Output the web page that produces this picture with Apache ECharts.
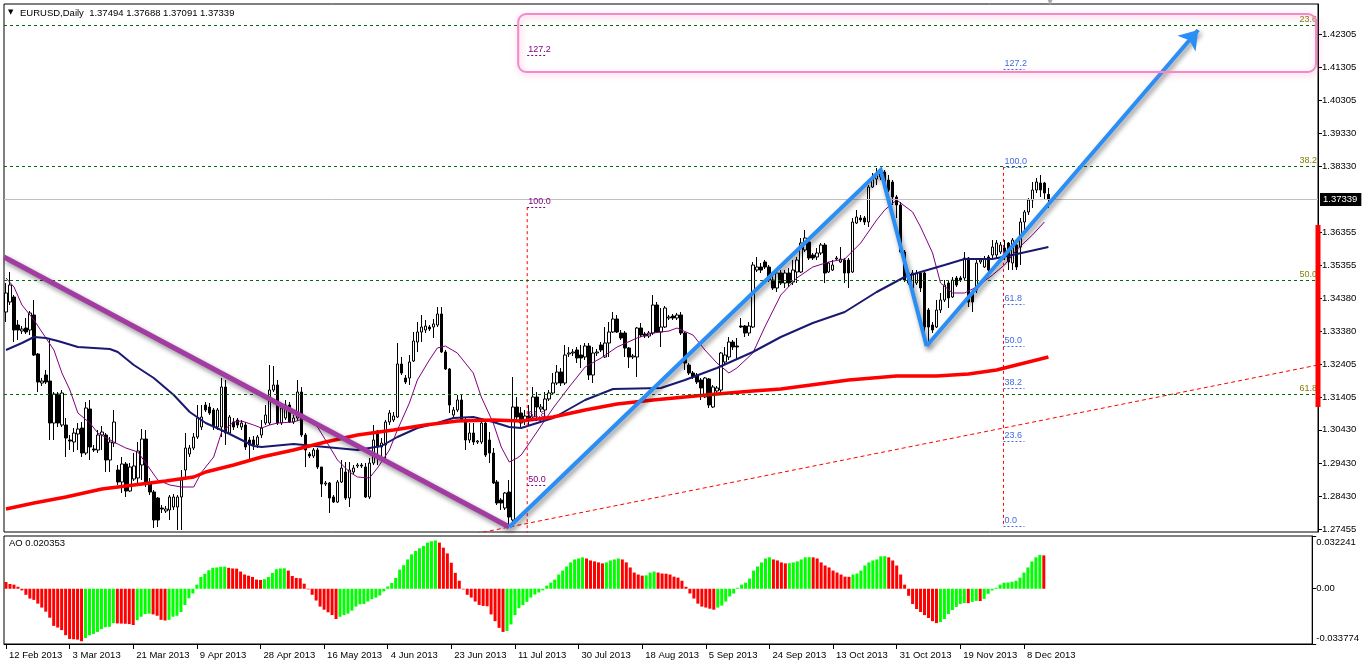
<!DOCTYPE html>
<html><head><meta charset="utf-8">
<script src="https://cdn.jsdelivr.net/npm/echarts@6/dist/echarts.min.js"></script>
<style>html,body{margin:0;padding:0;background:#fff}#c{width:1362px;height:665px}</style>
</head><body><div id="c"></div>
<script>
// ---------------- DATA ----------------
const opens = [1.33965,1.34265,1.34415,1.33575,1.33395,1.33485,1.33425,1.33875,1.32705,1.31835,
1.32075,1.31895,1.30635,1.31505,1.30575,1.30575,1.30125,1.30065,1.30305,1.30485,
1.29735,1.31055,1.29855,1.29825,1.30275,1.30275,1.29525,1.30035,1.29225,1.28865,
1.29405,1.28595,1.28955,1.28985,1.29375,1.30155,1.28835,1.28565,1.28385,1.28085,
1.27995,1.28025,1.28115,1.28115,1.28415,1.29225,1.29705,1.29885,1.30215,1.30515,
1.31175,1.31115,1.31025,1.30515,1.30515,1.31715,1.30335,1.30665,1.30725,1.30515,
1.30575,1.30125,1.30125,1.29975,1.30275,1.30635,1.30635,1.31625,1.31775,1.30635,
1.30785,1.31175,1.30665,1.30785,1.31565,1.30275,1.29705,1.29645,1.29825,1.29315,
1.28805,1.28835,1.28415,1.28265,1.28865,1.29165,1.28385,1.29165,1.29345,1.29375,
1.29315,1.28415,1.29435,1.30395,1.29915,1.29975,1.30665,1.30725,1.30815,1.32405,
1.31985,1.31985,1.32495,1.33065,1.33365,1.33425,1.33515,1.33515,1.33575,1.33905,
1.32765,1.32255,1.30875,1.31025,1.31325,1.30725,1.30125,1.30335,1.30065,1.30065,
1.30635,1.30125,1.29735,1.28865,1.28325,1.28085,1.28565,1.27725,1.31115,1.30935,
1.30725,1.30845,1.30815,1.31415,1.31055,1.31025,1.31355,1.31535,1.31835,1.32165,
1.31835,1.32705,1.32735,1.32825,1.32675,1.32615,1.32945,1.32075,1.32735,1.32975,
1.32615,1.33035,1.33365,1.33755,1.33335,1.33335,1.32885,1.32615,1.32615,1.33485,
1.33305,1.33245,1.33335,1.34175,1.33365,1.33515,1.33785,1.33845,1.33785,1.33875,
1.33335,1.32375,1.32135,1.32075,1.31925,1.31415,1.31955,1.31115,1.31595,1.31625,
1.32465,1.32615,1.33065,1.32945,1.33545,1.33545,1.33335,1.33515,1.35225,1.35315,
1.35465,1.35315,1.34925,1.34685,1.35135,1.34835,1.35135,1.34865,1.35165,1.35165,
1.35825,1.36065,1.35675,1.35615,1.35735,1.35975,1.35165,1.35225,1.35555,1.35465,
1.35525,1.35525,1.35165,1.36635,1.36785,1.36785,1.36665,1.37715,1.37955,1.38015,
1.38165,1.37925,1.37865,1.37415,1.37175,1.35765,1.35135,1.34685,1.34835,1.35135,
1.35135,1.34025,1.33575,1.33515,1.34025,1.34325,1.34835,1.34415,1.34985,1.34985,
1.34985,1.35585,1.34565,1.34625,1.35465,1.35315,1.35615,1.35675,1.35675,1.35765,
1.35885,1.36035,1.35435,1.35975,1.35915,1.36665,1.36965,1.37325,1.37625,1.37835,
1.37835,1.37494];
const closes = [1.34535,1.34775,1.33425,1.33425,1.33455,1.33365,1.33935,1.32675,1.31865,1.31895,
1.31865,1.30635,1.31505,1.30635,1.31535,1.30185,1.30095,1.30335,1.30455,1.29735,
1.31085,1.29915,1.29825,1.30275,1.30365,1.29525,1.30065,1.30665,1.28865,1.29405,
1.28595,1.29315,1.29345,1.29795,1.30155,1.28835,1.28565,1.27725,1.27725,1.28055,
1.28055,1.28415,1.28415,1.28415,1.28925,1.29885,1.29885,1.30215,1.30785,1.30815,
1.31025,1.30935,1.30515,1.31025,1.31715,1.30335,1.30815,1.30515,1.30575,1.30635,
1.29915,1.29975,1.29975,1.30215,1.30485,1.30875,1.31625,1.31775,1.30635,1.31085,
1.31175,1.30665,1.30785,1.31565,1.30275,1.29825,1.29645,1.29825,1.29315,1.28805,
1.28835,1.28385,1.28265,1.28865,1.29285,1.28385,1.29225,1.29285,1.29375,1.29345,
1.28415,1.29435,1.30125,1.29915,1.30035,1.30665,1.30935,1.30845,1.32405,1.32135,
1.31865,1.32465,1.33095,1.33365,1.33515,1.33545,1.33455,1.33605,1.33905,1.32765,
1.32255,1.31175,1.31025,1.31325,1.30725,1.30125,1.30335,1.30065,1.30095,1.30635,
1.29675,1.29735,1.28835,1.28235,1.28235,1.28535,1.27815,1.31115,1.30815,1.30635,
1.30845,1.30725,1.31415,1.31115,1.31115,1.31355,1.31535,1.31835,1.32165,1.31835,
1.32675,1.32735,1.32765,1.32585,1.32585,1.32945,1.32075,1.32735,1.32765,1.32825,
1.33035,1.33365,1.33755,1.33365,1.33185,1.32885,1.32615,1.32645,1.33485,1.33275,
1.33245,1.33335,1.34175,1.33365,1.33515,1.34085,1.33815,1.33785,1.33875,1.33335,
1.32435,1.32135,1.32015,1.31865,1.31685,1.31985,1.31175,1.31715,1.31685,1.32735,
1.32675,1.33065,1.32915,1.32915,1.33515,1.33335,1.33545,1.35375,1.35315,1.35225,
1.35315,1.34925,1.34685,1.35135,1.34835,1.35135,1.34835,1.35225,1.35525,1.36035,
1.36185,1.35585,1.35585,1.35735,1.35975,1.35135,1.35435,1.35375,1.35585,1.35555,
1.35135,1.35135,1.36665,1.36815,1.36725,1.36665,1.37715,1.37985,1.38075,1.38165,
1.37715,1.37625,1.37415,1.37175,1.35765,1.34925,1.34835,1.35135,1.35135,1.34685,
1.33515,1.33515,1.33425,1.34025,1.34325,1.34775,1.34385,1.34925,1.34775,1.34925,
1.35585,1.34265,1.34265,1.35435,1.35525,1.35555,1.35225,1.35915,1.36035,1.35975,
1.35735,1.35465,1.36125,1.35315,1.36665,1.36965,1.37325,1.37625,1.37865,1.37625,
1.37535,1.37339];
const lows = [1.33665,1.34175,1.33065,1.33125,1.33305,1.33305,1.33275,1.32645,1.31565,1.31745,
1.31805,1.30125,1.30125,1.30515,1.30515,1.29615,1.29825,1.29765,1.29825,1.29615,
1.29675,1.29525,1.29765,1.29735,1.29825,1.29165,1.29165,1.29915,1.28775,1.28535,
1.28415,1.28565,1.28895,1.28835,1.28925,1.28715,1.28475,1.27485,1.27515,1.27935,
1.27935,1.27725,1.28025,1.27425,1.27425,1.28925,1.29615,1.29825,1.30155,1.30425,
1.30965,1.30875,1.30425,1.30425,1.30215,1.29975,1.30275,1.30425,1.30485,1.30425,
1.29825,1.29525,1.29825,1.29885,1.30185,1.30575,1.30575,1.31565,1.30575,1.30575,
1.30725,1.30635,1.30605,1.30695,1.30215,1.29315,1.29585,1.29585,1.29255,1.28415,
1.28745,1.27935,1.28235,1.28235,1.28835,1.28325,1.28115,1.29105,1.29285,1.29285,
1.28385,1.28355,1.29375,1.29375,1.29525,1.29525,1.30575,1.30665,1.30785,1.32075,
1.31805,1.31775,1.32465,1.32765,1.33065,1.33335,1.33395,1.33185,1.33515,1.32735,
1.32225,1.30935,1.30815,1.30965,1.30665,1.29825,1.30035,1.29975,1.30005,1.30005,
1.29615,1.29435,1.28805,1.28175,1.28025,1.28025,1.27515,1.27635,1.30725,1.30515,
1.30575,1.30575,1.30725,1.30785,1.30965,1.30815,1.31295,1.31475,1.31775,1.31745,
1.31775,1.32615,1.32645,1.32435,1.32285,1.32525,1.31925,1.31835,1.32645,1.32765,
1.32585,1.32615,1.33335,1.33335,1.33125,1.32615,1.32285,1.32555,1.32015,1.33215,
1.33185,1.33185,1.33275,1.33335,1.32915,1.33485,1.33725,1.33725,1.33725,1.33275,
1.32225,1.32075,1.31955,1.31805,1.31325,1.31385,1.31085,1.31085,1.31535,1.31565,
1.32375,1.32525,1.32825,1.32525,1.33485,1.33215,1.33245,1.33485,1.35165,1.35135,
1.35255,1.34865,1.34625,1.34565,1.34775,1.34685,1.34715,1.34775,1.34835,1.35135,
1.35765,1.35525,1.35525,1.35525,1.35675,1.34835,1.35135,1.35195,1.35495,1.35435,
1.34835,1.34685,1.35135,1.36605,1.36665,1.36575,1.36515,1.37685,1.37775,1.37925,
1.37685,1.37565,1.37175,1.36785,1.35735,1.34865,1.34775,1.34565,1.34775,1.34565,
1.33215,1.32975,1.33335,1.33485,1.33935,1.34265,1.34085,1.34385,1.34715,1.34865,
1.34925,1.34115,1.33965,1.34535,1.35405,1.35285,1.35135,1.35525,1.35585,1.35705,
1.35525,1.35225,1.35225,1.35225,1.35375,1.36365,1.36875,1.37085,1.37535,1.37415,
1.37325,1.37091];
const highs = [1.34835,1.35165,1.34475,1.33725,1.33545,1.33785,1.33995,1.34325,1.32735,1.31985,
1.32225,1.33185,1.31565,1.31565,1.31625,1.30785,1.30275,1.30485,1.30635,1.30665,
1.31265,1.31325,1.29975,1.30425,1.30545,1.30335,1.30215,1.31025,1.29375,1.29615,
1.29465,1.29435,1.29735,1.30065,1.30455,1.30425,1.28985,1.28625,1.28415,1.28175,
1.28145,1.28475,1.28505,1.28475,1.29225,1.30335,1.29975,1.30335,1.31175,1.31175,
1.31265,1.31235,1.31085,1.31085,1.31985,1.31925,1.30875,1.30785,1.30785,1.30725,
1.30665,1.30215,1.30245,1.30275,1.30725,1.31175,1.32375,1.32345,1.31925,1.31175,
1.31325,1.31265,1.30875,1.31925,1.31715,1.30335,1.29765,1.29885,1.29885,1.29315,
1.28895,1.28865,1.28475,1.28925,1.29525,1.29465,1.29465,1.29375,1.29435,1.29435,
1.29435,1.29585,1.30575,1.30425,1.30185,1.30725,1.31025,1.30965,1.33035,1.32615,
1.32075,1.32675,1.33365,1.33665,1.33875,1.33725,1.33575,1.33755,1.34115,1.34115,
1.32825,1.32285,1.31115,1.31475,1.31475,1.30785,1.30635,1.30635,1.30125,1.30725,
1.30665,1.30365,1.29885,1.28925,1.28385,1.28565,1.28925,1.32015,1.31415,1.31115,
1.31025,1.31175,1.31715,1.31565,1.31205,1.31565,1.31625,1.32135,1.32375,1.32285,
1.32975,1.32915,1.32855,1.32915,1.32975,1.33035,1.33035,1.32915,1.32855,1.33065,
1.33515,1.33665,1.33965,1.33875,1.33425,1.33395,1.32915,1.32705,1.33515,1.33635,
1.33365,1.33395,1.34475,1.34265,1.34085,1.34145,1.33875,1.33905,1.33935,1.33965,
1.33365,1.32435,1.32195,1.32135,1.31985,1.32015,1.31985,1.31775,1.31745,1.32765,
1.32915,1.33215,1.33125,1.33185,1.33785,1.33575,1.33665,1.35465,1.35615,1.35435,
1.35525,1.35375,1.35135,1.35165,1.35225,1.35225,1.35285,1.35525,1.35615,1.36185,
1.36425,1.36125,1.35735,1.35885,1.36035,1.36035,1.35465,1.35525,1.35645,1.35915,
1.35585,1.35585,1.36785,1.37025,1.36875,1.36845,1.37775,1.38135,1.38285,1.38285,
1.38225,1.38075,1.37925,1.37475,1.37265,1.35825,1.35225,1.35225,1.35225,1.35165,
1.35165,1.34085,1.33665,1.34325,1.34535,1.34925,1.34925,1.35015,1.35045,1.35045,
1.35765,1.35615,1.34625,1.35525,1.35585,1.35645,1.35675,1.36125,1.36125,1.36065,
1.36125,1.36065,1.36185,1.36035,1.36785,1.37025,1.37385,1.37865,1.37985,1.38075,
1.37865,1.37688];

// Awesome Oscillator, one value per bar
const aoValues = [0.0041,0.0029,0.0025,0.0012,-0.0010,-0.0037,-0.0060,-0.0068,-0.0091,-0.0115,
-0.0140,-0.0177,-0.0227,-0.0237,-0.0253,-0.0284,-0.0307,-0.0309,-0.0311,-0.0321,
-0.0301,-0.0284,-0.0276,-0.0264,-0.0247,-0.0235,-0.0233,-0.0210,
-0.0212,-0.0213,-0.0214,-0.0216,-0.0222,
-0.0192,-0.0171,-0.0155,-0.0152,
-0.0157,-0.0165,-0.0190,-0.0194,
-0.0190,-0.0171,-0.0165,-0.0142,-0.0099,-0.0058,-0.0029,0.0025,0.0072,0.0091,0.0113,0.0128,0.0130,0.0134,0.0135,
0.0128,0.0124,0.0123,0.0105,0.0087,0.0080,0.0072,0.0056,0.0054,
0.0058,0.0072,0.0097,0.0119,0.0124,0.0125,
0.0111,0.0078,0.0066,0.0064,0.0031,-0.0004,-0.0037,-0.0072,-0.0109,-0.0128,-0.0144,-0.0161,-0.0185,
-0.0171,-0.0161,-0.0152,-0.0134,-0.0109,-0.0095,-0.0093,-0.0078,-0.0064,-0.0054,-0.0041,-0.0016,0.0014,0.0035,0.0066,0.0117,0.0144,0.0179,0.0210,0.0231,0.0247,0.0262,0.0282,0.0290,0.0295,
0.0282,0.0251,0.0216,0.0159,0.0097,0.0049,-0.0004,-0.0037,-0.0054,-0.0078,-0.0099,-0.0105,-0.0107,-0.0157,-0.0198,-0.0239,-0.0264,
-0.0258,-0.0218,-0.0161,-0.0119,
-0.0100,-0.0080,-0.0054,-0.0035,-0.0023,-0.0010,0.0019,0.0037,0.0056,0.0087,0.0111,0.0136,0.0161,0.0179,0.0185,0.0192,
0.0185,0.0173,0.0167,0.0161,0.0155,
0.0161,0.0173,0.0179,0.0185,
0.0179,0.0161,0.0130,0.0099,0.0087,0.0080,
0.0082,0.0099,0.0105,
0.0099,0.0093,0.0092,0.0087,0.0074,0.0068,0.0049,0.0012,-0.0029,-0.0060,-0.0091,-0.0109,-0.0115,-0.0122,-0.0128,
-0.0115,-0.0103,-0.0078,-0.0047,-0.0029,0.0006,0.0025,0.0037,0.0062,0.0111,0.0136,0.0161,0.0185,0.0192,
0.0179,0.0173,0.0161,0.0155,
0.0156,0.0161,0.0167,0.0179,0.0192,0.0193,
0.0192,0.0185,0.0161,0.0142,0.0130,0.0111,0.0099,0.0087,0.0074,0.0073,
0.0087,0.0093,0.0111,0.0142,0.0161,0.0173,0.0179,0.0198,0.0199,
0.0192,0.0173,0.0142,0.0087,0.0025,-0.0043,-0.0093,-0.0124,-0.0142,-0.0161,-0.0179,-0.0198,-0.0210,
-0.0204,-0.0185,-0.0155,-0.0130,-0.0111,-0.0093,-0.0087,
-0.0088,
-0.0080,-0.0074,
-0.0075,
-0.0062,-0.0031,-0.0010,0.0006,0.0025,0.0037,0.0038,0.0043,0.0049,0.0068,0.0099,0.0130,0.0167,0.0192,0.0207,
0.0204];

// moving averages, [bar, price] vertices
const maFast = [[0,1.34985],[2,1.34715],[4,1.34175],[7,1.33725],[9,1.33365],[12,1.32825],[14,1.32135],[16,1.31625],[18,1.30935],[21,1.30635],[23,1.30335],[27,1.30065],[30,1.29885],[33,1.29765],[35,1.29435],[38,1.28925],[41,1.28775],[44,1.28715],[47,1.28715],[49,1.29165],[52,1.29615],[54,1.30365],[57,1.30665],[59,1.30695],[62,1.30575],[64,1.30485],[66,1.30575],[68,1.30635],[72,1.30665],[75,1.30785],[78,1.30515],[80,1.30125],[83,1.29525],[86,1.29165],[88,1.29015],[91,1.28985],[93,1.29285],[96,1.29825],[98,1.30425],[101,1.31235],[103,1.31925],[106,1.32525],[108,1.32885],[110,1.32945],[113,1.32735],[117,1.32135],[119,1.31415],[122,1.30635],[124,1.29915],[126,1.29465],[128,1.29585],[129,1.29675],[137,1.31085],[141,1.31715],[145,1.32315],[149,1.32585],[153,1.32915],[158,1.33185],[162,1.33335],[166,1.33395],[168,1.33485],[172,1.33275],[175,1.32825],[178,1.32435],[181,1.32135],[183,1.32285],[187,1.32735],[190,1.33515],[194,1.34475],[198,1.34985],[202,1.35315],[206,1.35465],[210,1.35555],[214,1.36035],[218,1.36725],[220,1.37025],[223,1.37325],[227,1.36965],[229,1.36515],[232,1.35735],[234,1.34835],[237,1.34535],[240,1.34535],[243,1.34715],[247,1.35075],[250,1.35375],[253,1.35825],[257,1.36275],[260,1.36665]];
const maMid = [[0,1.32825],[4,1.33035],[7,1.33215],[10,1.33185],[13,1.33095],[18,1.32915],[26,1.32855],[28,1.32765],[32,1.32375],[37,1.31985],[42,1.31475],[46,1.30965],[50,1.30635],[55,1.30365],[58,1.30185],[62,1.29945],[64,1.29915],[72,1.30005],[80,1.29915],[88,1.29825],[94,1.29945],[98,1.30215],[103,1.30485],[108,1.30635],[112,1.30785],[117,1.30815],[122,1.30665],[126,1.30515],[129,1.30485],[137,1.30785],[145,1.31325],[152,1.31655],[164,1.31685],[170,1.31925],[178,1.32285],[187,1.32765],[194,1.33215],[202,1.33635],[210,1.33965],[218,1.34565],[225,1.35015],[229,1.35165],[235,1.35375],[240,1.35555],[247,1.35555],[252,1.35675],[261,1.35915]];
const maSlow = [[0,1.28055],[7,1.28235],[15,1.28415],[24,1.28655],[32,1.28775],[40,1.28895],[47,1.29015],[50,1.29165],[57,1.29375],[64,1.29615],[72,1.29825],[80,1.30065],[88,1.30275],[97,1.30425],[105,1.30575],[109,1.30635],[113,1.30695],[122,1.30725],[129,1.30695],[137,1.30815],[145,1.31025],[153,1.31205],[162,1.31325],[170,1.31415],[178,1.31505],[187,1.31595],[194,1.31655],[211,1.31925],[223,1.32045],[233,1.32045],[241,1.32105],[248,1.32225],[261,1.32615]];

// axis texts
const dateLabels = ['12 Feb 2013','3 Mar 2013','21 Mar 2013','9 Apr 2013','28 Apr 2013','16 May 2013','4 Jun 2013','23 Jun 2013','11 Jul 2013','30 Jul 2013','18 Aug 2013','5 Sep 2013','24 Sep 2013','13 Oct 2013','31 Oct 2013','19 Nov 2013','8 Dec 2013'];
const dateStep = 16;
const priceTicks = [1.42305,1.41305,1.40305,1.39330,1.38330,1.36355,1.35355,1.34380,1.33380,1.32405,1.31405,1.30430,1.29430,1.28430,1.27455];
const aoTicks = [0.032241, 0, -0.033774];
const priceMin = 1.27365, priceMax = 1.43205;
const slotCount = 329;
const lastPrice = 1.37339;
const ohlcTitle = 'EURUSD,Daily  1.37494 1.37688 1.37091 1.37339';
const aoTitle = 'AO 0.020353';

// drawn objects (bar index, price)
const fibRetrace = [[23.6,1.4256],[38.2,1.3833],[50.0,1.3491],[61.8,1.3149]];
const fibBlue = [[127.2,1.4126],[100.0,1.3832],[61.8,1.3421],[50.0,1.3294],[38.2,1.3167],[23.6,1.3010],[0.0,1.2755]];
const fibBlueBars = [249.75, 255];
const fibPurple = [[127.2,1.4166],[100.0,1.3711],[61.8,1.3073],[50.0,1.28765]];
const fibPurpleBars = [130.5, 135.5];
const fibPurpleBase = 1.2042;
const purpleTrend = [[-0.5,1.35615],[126,1.27515]];
const blueWave = [[126,1.27515],[219,1.38225],[230.5,1.32945]];
const blueArrow = [[230.5,1.32945],[298.5,1.42425]];
const redTrend = [[116,1.27275],[328.5,1.32375]];
const targetBox = [128.25,1.42905,328,1.41165];
const rangeBar = [[328.5,1.36575],[328.5,1.31115]];

// ---------------- CHART ----------------
const FONT = "'Liberation Sans','DejaVu Sans',sans-serif";
const slots = Array.from({length: slotCount}, (_, i) => String(i));
const candles = opens.map((o, i) => [o, closes[i], lows[i], highs[i]]);
const aoBars = aoValues.map((v, i) => ({value: v, itemStyle: {color: (i > 0 && v > aoValues[i - 1]) ? '#00ff00' : '#ff0000'}}));
const isDateSlot = (i) => i % dateStep === 0 && i / dateStep < dateLabels.length;
const shadow = {shadowColor: 'rgba(0,0,0,0.45)', shadowBlur: 5, shadowOffsetX: 2, shadowOffsetY: 3};

const fibSegments = (levels, bars) => levels.map(([lvl, p]) => [
  {name: lvl.toFixed(1), coord: [bars[0], p]}, {coord: [bars[1], p]}]);

const chart = echarts.init(document.getElementById('c'));
chart.setOption({
  animation: false,
  backgroundColor: '#fff',
  textStyle: {fontFamily: FONT},
  title: [
    {text: '\u25BC', left: 8, top: 9, padding: 0, textStyle: {fontSize: 7, fontWeight: 'normal', color: '#000', fontFamily: "'DejaVu Sans'"}},
    {text: ohlcTitle, left: 20, top: 8, padding: 0, textStyle: {fontSize: 9.5, fontWeight: 'normal', color: '#000', fontFamily: FONT}},
    {text: aoTitle, left: 9, top: 538, padding: 0, textStyle: {fontSize: 9.5, fontWeight: 'normal', color: '#000', fontFamily: FONT}}
  ],
  graphic: [{type: 'text', left: 1047, top: -2, style: {text: '\u25BC', fill: '#aaa', font: '8px DejaVu Sans'}}],
  grid: [
    {left: 4, top: 4, width: 1314, height: 528, show: true, borderColor: '#000', borderWidth: 1, backgroundColor: '#fff'},
    {left: 4, top: 536, width: 1314, height: 108, show: true, borderColor: '#000', borderWidth: 1, backgroundColor: '#fff'}
  ],
  xAxis: [
    {type: 'category', gridIndex: 0, data: slots, boundaryGap: true, show: false},
    {type: 'value', gridIndex: 0, min: -0.5, max: slotCount - 0.5, show: false},
    {type: 'category', gridIndex: 1, data: slots, boundaryGap: true, position: 'bottom',
      axisLine: {show: true, onZero: false, lineStyle: {color: '#000'}},
      axisTick: {show: true, alignWithLabel: true, interval: isDateSlot, length: 5, lineStyle: {color: '#000'}},
      axisLabel: {interval: isDateSlot, formatter: (v) => dateLabels[Number(v) / dateStep], align: 'left', padding: [0, 0, 0, 3], margin: 6, fontSize: 9.5, color: '#000', fontFamily: FONT},
      splitLine: {show: false}}
  ],
  yAxis: [
    {type: 'value', gridIndex: 0, position: 'right', min: priceMin, max: priceMax, splitLine: {show: false},
      axisLine: {show: true, onZero: false, lineStyle: {color: '#000'}},
      axisTick: {show: true, customValues: priceTicks, length: 4, lineStyle: {color: '#000'}},
      axisLabel: {customValues: priceTicks, formatter: (v) => v.toFixed(5), fontSize: 9.5, color: '#000', margin: 4, fontFamily: FONT}},
    {type: 'value', gridIndex: 1, position: 'right', min: aoTicks[2], max: aoTicks[0], splitLine: {show: false},
      axisLine: {show: true, onZero: false, lineStyle: {color: '#000'}},
      axisTick: {show: true, customValues: aoTicks, length: 4, lineStyle: {color: '#000'}},
      axisLabel: {customValues: aoTicks, fontSize: 9.5, color: '#000', margin: 4, fontFamily: FONT,
        formatter: (v) => v === 0 ? '0.00' : (v > 0 ? '{hi|' + v.toFixed(6) + '}' : '{lo|' + v.toFixed(6) + '}'),
        rich: {hi: {padding: [13, 0, 0, 0], fontSize: 9.5, fontFamily: FONT}, lo: {padding: [0, 0, 12, 0], fontSize: 9.5, fontFamily: FONT}}}}
  ],
  series: [
    {type: 'candlestick', name: 'EURUSD', xAxisIndex: 0, yAxisIndex: 0, data: candles, barWidth: 3, z: 2,
      itemStyle: {color: '#fff', color0: '#000', borderColor: '#000', borderColor0: '#000', borderWidth: 1},
      markLine: {symbol: 'none', silent: true, animation: false, precision: 6,
        data: fibRetrace.map(([lvl, p]) => ({name: lvl.toFixed(1), yAxis: p,
          lineStyle: {color: '#006e00', type: [3, 3], width: 1},
          label: {show: true, position: 'insideEndTop', formatter: '{b}', color: '#808000', fontSize: 9, distance: 1, fontFamily: FONT}}))
          .concat([{name: 'last', yAxis: lastPrice, lineStyle: {color: '#c0c0c0', type: 'solid', width: 1},
            label: {show: true, position: 'end', formatter: () => lastPrice.toFixed(5), color: '#fff', backgroundColor: '#000', padding: [2, 4, 1, 3], fontSize: 9.5, distance: 2, fontFamily: FONT}}])}},
    {type: 'line', name: 'MA fast', xAxisIndex: 1, yAxisIndex: 0, data: maFast, symbol: 'none', z: 3, lineStyle: {color: '#800080', width: 1}},
    {type: 'line', name: 'MA mid', xAxisIndex: 1, yAxisIndex: 0, data: maMid, symbol: 'none', z: 3, lineStyle: {color: '#191970', width: 2}},
    {type: 'line', name: 'MA slow', xAxisIndex: 1, yAxisIndex: 0, data: maSlow, symbol: 'none', z: 3, lineStyle: {color: '#ff0000', width: 3.5}},
    {type: 'line', name: 'red trend', xAxisIndex: 1, yAxisIndex: 0, data: redTrend, symbol: 'none', z: 3, lineStyle: {color: '#ff0000', width: 1, type: [4, 3]}},
    {type: 'line', name: 'fib blue', xAxisIndex: 1, yAxisIndex: 0, symbol: 'none', z: 4,
      data: [[fibBlueBars[0], fibBlue[1][1]], [fibBlueBars[0], fibBlue[6][1]]],
      lineStyle: {color: '#ff0000', width: 1, type: [3, 3]},
      markLine: {symbol: 'none', silent: true, animation: false, precision: 6, data: fibSegments(fibBlue, fibBlueBars),
        lineStyle: {color: '#4169e1', width: 1, type: [2, 2]},
        label: {show: true, position: 'insideStartTop', formatter: '{b}', color: '#4169e1', fontSize: 9, distance: 1, fontFamily: FONT}}},
    {type: 'line', name: 'fib purple', xAxisIndex: 1, yAxisIndex: 0, symbol: 'none', z: 4,
      data: [[fibPurpleBars[0], fibPurple[1][1]], [fibPurpleBars[0], fibPurpleBase]],
      lineStyle: {color: '#ff0000', width: 1, type: [3, 3]},
      markLine: {symbol: 'none', silent: true, animation: false, precision: 6, data: fibSegments(fibPurple, fibPurpleBars),
        lineStyle: {color: '#800080', width: 1, type: [2, 2]},
        label: {show: true, position: 'insideStartTop', formatter: '{b}', color: '#800080', fontSize: 9, distance: 1, fontFamily: FONT}}},
    {type: 'line', name: 'purple trend', xAxisIndex: 1, yAxisIndex: 0, data: purpleTrend, symbol: 'none', z: 5,
      lineStyle: Object.assign({color: '#a23ca2', width: 5}, shadow)},
    {type: 'lines', name: 'blue wave', coordinateSystem: 'cartesian2d', xAxisIndex: 1, yAxisIndex: 0, polyline: true, z: 6,
      data: [{coords: blueWave}], lineStyle: Object.assign({color: '#2b8ef5', width: 4, opacity: 1}, shadow)},
    {type: 'lines', name: 'blue arrow', coordinateSystem: 'cartesian2d', xAxisIndex: 1, yAxisIndex: 0, z: 6,
      symbol: ['none', 'arrow'], symbolSize: 18,
      data: [{coords: blueArrow}], lineStyle: Object.assign({color: '#2b8ef5', width: 4, opacity: 1}, shadow)},
    {type: 'custom', name: 'target box', xAxisIndex: 1, yAxisIndex: 0, z: 6, clip: false,
      data: [targetBox], encode: {x: [0, 2], y: [1, 3]},
      renderItem: (params, api) => {
        const a = api.coord([api.value(0), api.value(1)]);
        const b = api.coord([api.value(2), api.value(3)]);
        return {type: 'rect', shape: {x: a[0], y: a[1], width: b[0] - a[0], height: b[1] - a[1], r: 8},
          style: {fill: 'none', stroke: '#f28ac6', lineWidth: 2, shadowBlur: 6, shadowColor: 'rgba(240,110,180,0.55)', shadowOffsetX: 1, shadowOffsetY: 2}};
      }},
    {type: 'line', name: 'range bar', xAxisIndex: 1, yAxisIndex: 0, data: rangeBar, symbol: 'none', clip: false, z: 10,
      lineStyle: {color: '#ff0000', width: 5, cap: 'butt'}},
    {type: 'bar', name: 'AO', xAxisIndex: 2, yAxisIndex: 1, data: aoBars, barWidth: 3}
  ]
});
</script></body></html>
